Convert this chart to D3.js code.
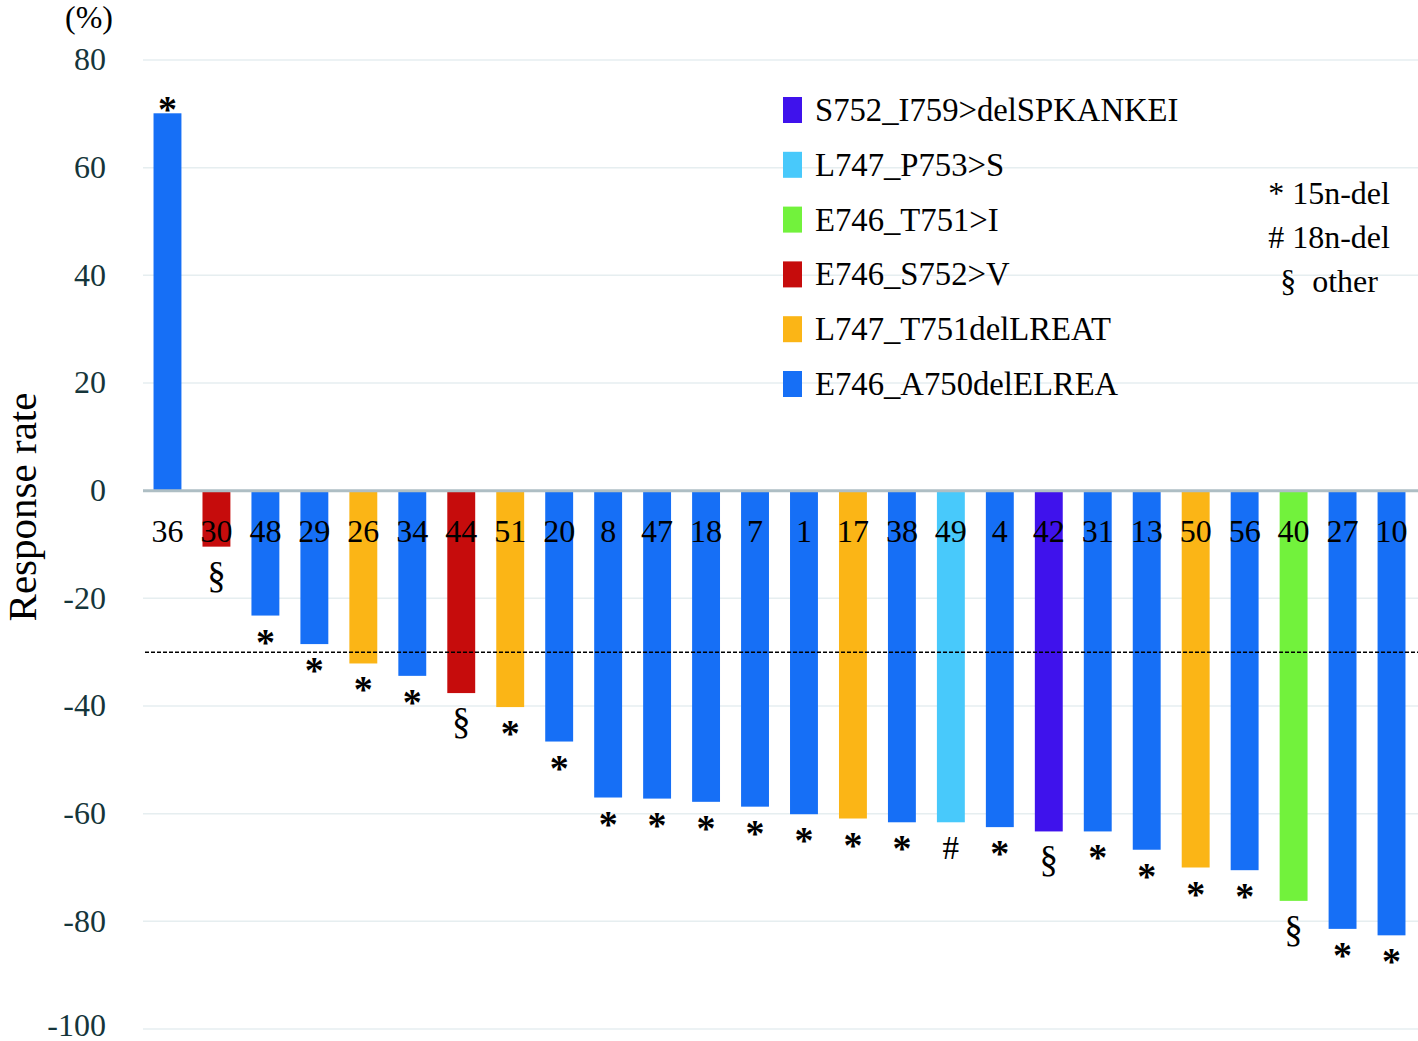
<!DOCTYPE html>
<html>
<head>
<meta charset="utf-8">
<script src="https://cdn.jsdelivr.net/npm/d3@7"></script>
<style>
  html, body { margin: 0; padding: 0; background: #fff; }
  svg text { font-family: "Liberation Serif", "Times New Roman", serif; }
</style>
</head>
<body>
<svg id="chart" width="1418" height="1041"></svg>
<script>
// ---- data ----
const patients = ["36","30","48","29","26","34","44","51","20","8","47","18","7","1","17","38","49","4","42","31","13","50","56","40","27","10"];
const responses = [70.1,-10.4,-23.2,-28.5,-32.1,-34.4,-37.6,-40.2,-46.6,-57.0,-57.2,-57.8,-58.7,-60.1,-60.9,-61.6,-61.6,-62.5,-63.3,-63.3,-66.7,-70.0,-70.5,-76.2,-81.4,-82.6];
const mutations = ["E746_A750delELREA","E746_S752>V","E746_A750delELREA","E746_A750delELREA","L747_T751delLREAT","E746_A750delELREA","E746_S752>V","L747_T751delLREAT","E746_A750delELREA","E746_A750delELREA","E746_A750delELREA","E746_A750delELREA","E746_A750delELREA","E746_A750delELREA","L747_T751delLREAT","E746_A750delELREA","L747_P753>S","E746_A750delELREA","S752_I759>delSPKANKEI","E746_A750delELREA","E746_A750delELREA","L747_T751delLREAT","E746_A750delELREA","E746_T751>I","E746_A750delELREA","E746_A750delELREA"];
const markers = ["*","§","*","*","*","*","§","*","*","*","*","*","*","*","*","*","#","*","§","*","*","*","*","§","*","*"];
const legendNames = ["S752_I759>delSPKANKEI","L747_P753>S","E746_T751>I","E746_S752>V","L747_T751delLREAT","E746_A750delELREA"];
const legendColors = ["#3f12ec","#48c9fb","#72f23c","#c60c0c","#fbb516","#166ff6"];
const yTicks = [80,60,40,20,0,-20,-40,-60,-80,-100];
const noteLines = ["* 15n-del","# 18n-del","§  other"];
const threshold = -30;

// ---- scales ----
const svg = d3.select("#chart");
const x = d3.scaleBand().domain(patients).range([143, 1416]).paddingInner(0.43).paddingOuter(0.215);
const y = d3.scaleLinear().domain([-100, 80]).range([1029, 60]);
const color = d3.scaleOrdinal().domain(legendNames).range(legendColors);

// gridlines
svg.append("g").selectAll("line").data(yTicks.filter(d => d !== 0)).join("line")
  .attr("x1", 143).attr("x2", 1418)
  .attr("y1", d => y(d)).attr("y2", d => y(d))
  .attr("stroke", "#e6eef0").attr("stroke-width", 1.5);

// y tick labels via axis
const yAxis = d3.axisLeft(y).tickValues(yTicks).tickSize(0).tickPadding(0).tickFormat(d => String(d));
const ag = svg.append("g").attr("transform", "translate(106,0)").call(yAxis);
ag.select(".domain").remove();
ag.selectAll("text")
  .attr("font-family", "Liberation Serif, Times New Roman, serif")
  .attr("font-size", 32).attr("fill", "#15353a")
  .attr("dy", d => d === -100 ? "0.2em" : "0.31em");

// bars
const data = patients.map((p, i) => ({p, v: responses[i], m: mutations[i], k: markers[i]}));
svg.append("g").selectAll("rect").data(data).join("rect")
  .attr("x", d => x(d.p)).attr("width", x.bandwidth())
  .attr("y", d => y(Math.max(0, d.v)))
  .attr("height", d => Math.abs(y(d.v) - y(0)))
  .attr("fill", d => color(d.m));

// zero line
svg.append("line").attr("x1", 143).attr("x2", 1418).attr("y1", y(0)).attr("y2", y(0))
  .attr("stroke", "#aebec4").attr("stroke-width", 3);

// threshold dashed line
svg.append("line").attr("x1", 145).attr("x2", 1418).attr("y1", y(threshold)).attr("y2", y(threshold))
  .attr("stroke", "#000").attr("stroke-width", 1.5).attr("stroke-dasharray", "4,2");

// category labels
svg.append("g").selectAll("text").data(data).join("text")
  .attr("x", d => x(d.p) + x.bandwidth() / 2).attr("y", 542)
  .attr("text-anchor", "middle").attr("font-size", 32).attr("fill", "#000")
  .text(d => d.p);

// markers
const mSize = {"*": 38, "§": 37, "#": 33};
const mOff = {"*": 39, "§": 41, "#": 37};
svg.append("g").selectAll("text").data(data).join("text")
  .attr("x", d => x(d.p) + x.bandwidth() / 2)
  .attr("y", d => d.v > 0 ? y(d.v) + 9 : y(d.v) + mOff[d.k])
  .attr("text-anchor", "middle")
  .attr("font-size", d => mSize[d.k])
  .attr("font-weight", d => d.k === "*" ? "bold" : "normal")
  .attr("fill", "#000")
  .text(d => d.k);

// legend
const lg = svg.append("g");
legendNames.forEach((n, i) => {
  const cy = 110 + i * 54.8;
  lg.append("rect").attr("x", 783).attr("y", cy - 13).attr("width", 19).attr("height", 26).attr("fill", legendColors[i]);
  lg.append("text").attr("x", 815).attr("y", cy + 11).attr("font-size", 32.7).attr("fill", "#000").text(n);
});

// note
noteLines.forEach((t, i) => {
  svg.append("text").attr("x", 1329).attr("y", 204 + i * 44)
    .attr("text-anchor", "middle").attr("font-size", 32).attr("fill", "#000")
    .style("white-space", "pre").text(t);
});

// (%) unit
svg.append("text").attr("x", 89).attr("y", 28).attr("text-anchor", "middle")
  .attr("font-size", 32).attr("fill", "#000").text("(%)");

// y axis title
svg.append("text").attr("transform", "translate(36,507) rotate(-90)")
  .attr("text-anchor", "middle").attr("font-size", 41).attr("fill", "#000")
  .text("Response rate");
</script>
</body>
</html>
